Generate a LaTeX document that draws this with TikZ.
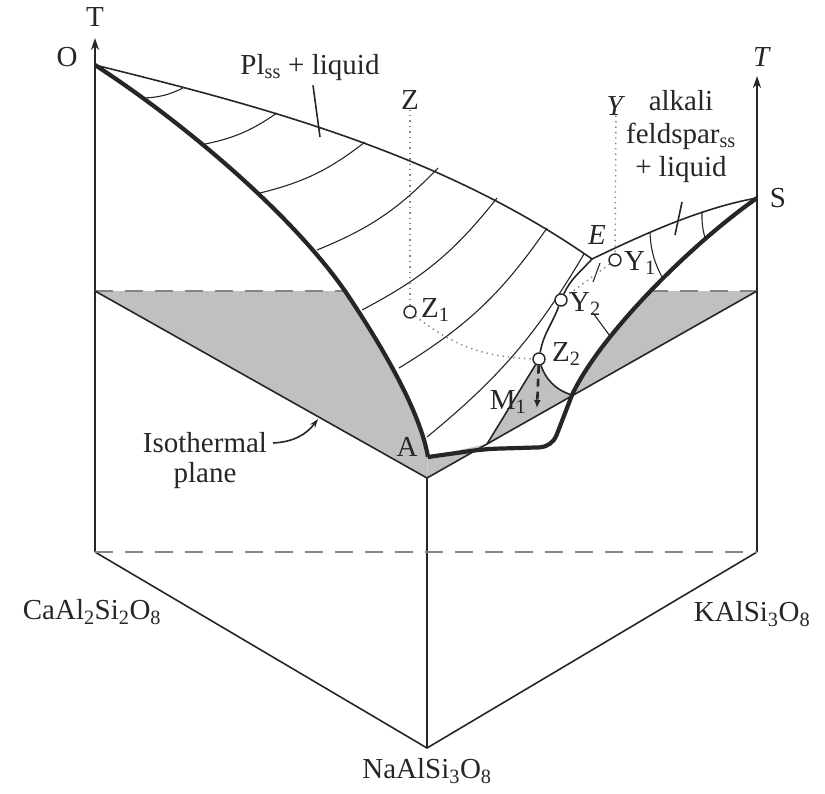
\documentclass[tikz,border=0pt]{standalone}
\usepackage{fontspec}
\setmainfont{Liberation Serif}
\usepackage{xcolor}
\definecolor{planeGray}{HTML}{C0C0C0}
\definecolor{lineDark}{HTML}{262626}
\definecolor{hiddenGray}{HTML}{858585}
\usetikzlibrary{arrows.meta}

\begin{document}
\begin{tikzpicture}[x=1pt, y=-1pt,
  lbl/.style={inner sep=0pt, text=lineDark, font=\fontsize{29}{33}\selectfont},
  thinline/.style={lineDark, line width=1.6pt},
  isoline/.style={lineDark, line width=1.1pt},
  heavyline/.style={lineDark, line width=4.2pt, line join=round},
  hidden/.style={hiddenGray, line width=1.8pt, dash pattern=on 18pt off 12pt},
  trace/.style={hiddenGray, line width=1.4pt, dash pattern=on 1.4pt off 4pt},
  pt/.style={circle, draw=lineDark, fill=white, line width=1.4pt, minimum size=12pt, inner sep=0pt}]
  \useasboundingbox (0,0) rectangle (825,793);
  \coordinate (O) at (95,65);
  \coordinate (Ob) at (95,552);
  \coordinate (Sb) at (757,552);
  \coordinate (N) at (427,748);
  \coordinate (S) at (757,198);
  \coordinate (Il) at (95,291);
  \coordinate (Ir) at (757,291);
  \coordinate (If) at (427,478);
  \coordinate (A) at (428,457);
  \coordinate (E) at (592,259);
  \coordinate (P) at (572,395);
  \coordinate (Q) at (487,444);
  \coordinate (cl) at (345,291);
  \coordinate (cr) at (650,291);
  \coordinate (z2) at (539,359);
  % isothermal plane, shaded parts
  \begin{scope}
    \clip (0,291) rectangle (825,793);
    \fill[planeGray] (O) .. controls (180,120) and (290,212) .. (cl) .. controls (380,343) and (420,410) .. (A) -- (If) -- (Il) -- cycle;
    \fill[planeGray] (S) .. controls (690,245) and (600,335) .. (P) -- (Ir) -- cycle;
  \end{scope}
  \fill[planeGray] (z2) .. controls (545,378) and (555,390) .. (P) -- (Q) -- cycle;
  \fill[planeGray] (A) -- (Q) -- (If) -- cycle;
  % prism
  \draw[thinline, -{Stealth[length=12pt,width=8pt]}] (Ob) -- (95,38);
  \draw[thinline, -{Stealth[length=12pt,width=8pt]}] (Sb) -- (757,76);
  \draw[thinline] (Ob) -- (N) -- (Sb);
  \draw[thinline] (If) -- (N);
  \draw[hidden] (Ob) -- (Sb);
  \draw[hidden] (Il) -- (cl);
  \draw[hidden] (cr) -- (Ir);
  \draw[thinline] (Il) -- (If) -- (Ir);
  % liquidus surfaces
  \draw[thinline] (O) .. controls (265,107) and (442,154) .. (E) .. controls (640,236) and (700,208) .. (S);
  \draw[isoline] (143,98) to[bend right=12] (183,88);
  \draw[isoline] (200,145) to[bend right=12] (277,113);
  \draw[isoline] (260,193) to[bend right=12] (365,142);
  \draw[isoline] (317,250) to[bend right=12] (438,168);
  \draw[isoline] (362,310) to[bend right=12] (497,198);
  \draw[isoline] (399,368) to[bend right=12] (547,228);
  \draw[isoline] (427,437) to[bend right=10] (584,254);
  \draw[isoline] (650,233) to[bend right=12] (662,277);
  \draw[isoline] (702,212) to[bend right=8] (705,238);
  \draw[isoline] (593,313) -- (610,336);
  \draw[isoline] (593,282) -- (600,263);
  % solidus curves
  \draw[heavyline] (O) .. controls (180,120) and (290,212) .. (cl) .. controls (380,343) and (420,410) .. (A);
  \draw[heavyline] (S) .. controls (690,245) and (600,335) .. (P);
  \draw[heavyline, rounded corners=12pt] (A) -- (485,449) -- (552,447) -- (P);
  % points
  \node[pt] (Z1) at (410,312) {};
  \node[pt] (Z2) at (z2) {};
  \node[pt] (Y1) at (615,260) {};
  \node[pt] (Y2) at (561,300) {};
  \node[lbl] (Zlbl) at (410,100) {Z};
  \node[lbl] (Ylbl) at (616,106) {\textit{Y}};
  \draw[trace] (Zlbl) -- (Z1);
  \draw[trace] (Ylbl) -- (Y1);
  \draw[trace] (Z1) to[bend right=18] (Z2);
  \draw[trace] (Y1) -- (Y2);
  \draw[thinline] (E) to[out=228, in=65] (Y2);
  \draw[thinline] (Y2) to[out=250, in=80] (Z2);
  \draw[thinline] (Z2) .. controls (545,378) and (555,390) .. (P);
  \draw[thinline] (Z2) -- (Q);
  \coordinate (m1) at (537,408);
  \draw[lineDark, line width=2.6pt, dash pattern=on 8pt off 5pt, -{Latex[length=8pt,width=7pt]}] (Z2) -- (m1);
  % labels
  \node[lbl] (Tl) at (95,17) {T};
  \node[lbl] (Olbl) at (67,57) {O};
  \node[lbl] (Tr) at (762,57) {\textit{T}};
  \node[lbl] (Slbl) at (778,198) {S};
  \node[lbl] (Elbl) at (597,235) {\textit{E}};
  \node[lbl, anchor=west] (Y1lbl) at (624,263) {Y\textsubscript{1}};
  \node[lbl, anchor=west] (Y2lbl) at (569,304) {Y\textsubscript{2}};
  \node[lbl, anchor=west] (Z1lbl) at (421,310) {Z\textsubscript{1}};
  \node[lbl, anchor=west] (Z2lbl) at (552,354) {Z\textsubscript{2}};
  \node[lbl] (M1lbl) at (508,402) {M\textsubscript{1}};
  \node[lbl] (Albl) at (407,447) {A};
  \node[lbl] (pl) at (310,68) {Pl\textsubscript{ss} + liquid};
  \coordinate (plTip) at (320,137);
  \draw[thinline] ([shift={(3,4)}]pl.south) -- (plTip);
  \node[lbl, align=center] (alk) at (681,137) {alkali\\feldspar\textsubscript{ss}\\+ liquid};
  \coordinate (alkTop) at (682,202);
  \coordinate (alkTip) at (675,235);
  \draw[thinline] (alkTop) -- (alkTip);
  \node[lbl] (iso) at (205,443) {Isothermal};
  \node[lbl] (plane) at (205,476) {plane};
  \coordinate (isoTip) at (318,419);
  \draw[thinline, -{Stealth[length=9pt,width=6pt]}] ([xshift=6pt]iso.east) to[bend right=25] (isoTip);
  \node[lbl] (ca) at (92,612) {CaAl\textsubscript{2}Si\textsubscript{2}O\textsubscript{8}};
  \node[lbl] (ka) at (752,614) {KAlSi\textsubscript{3}O\textsubscript{8}};
  \node[lbl] (na) at (427,771) {NaAlSi\textsubscript{3}O\textsubscript{8}};
\end{tikzpicture}
\end{document}
